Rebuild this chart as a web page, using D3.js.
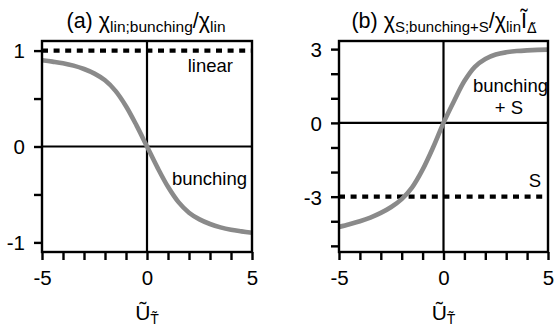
<!DOCTYPE html>
<html><head><meta charset="utf-8">
<script src="https://cdn.jsdelivr.net/npm/d3@7"></script>
<style>
html,body{margin:0;padding:0;background:#fff;}
text{font-family:"Liberation Sans",Arial,sans-serif;fill:#000;}
</style></head>
<body><svg id="c" width="556" height="333"></svg>
<script>
// ---- data ----
const xValues = [-5,-4.5,-4,-3.5,-3,-2.5,-2,-1.5,-1,-0.5,0,0.5,1,1.5,2,2.5,3,3.5,4,4.5,5];
const bunchingA = [0.90,0.885,0.868,0.843,0.808,0.76,0.69,0.58,0.42,0.22,0,-0.22,-0.42,-0.58,-0.69,-0.76,-0.808,-0.843,-0.868,-0.885,-0.90];
const linearA = [1,1];
const bunchingSB = [-4.23,-4.12,-4.0,-3.85,-3.66,-3.42,-3.1,-2.62,-1.9,-1.0,0,0.88,1.7,2.28,2.6,2.78,2.87,2.92,2.95,2.97,2.98];
const sB = [-3,-3];
const xTicks = [-5,-4,-3,-2,-1,0,1,2,3,4,5];
const xTickLabels = [-5,0,5];
const yTicksA = [-1,-0.5,0,0.5,1];
const yTickLabelsA = [-1,0,1];
const yTicksB = [-5,-4,-3,-2,-1,0,1,2,3];
const yTickLabelsB = [-3,0,3];

const svg = d3.select("#c");

function panel(opt){
  const g = svg.append("g");
  const x = d3.scaleLinear().domain([-5,5]).range([opt.x0, opt.x1]);
  const y = d3.scaleLinear().domain(opt.ydom).range([252, 41]);
  // crosshair
  g.append("line").attr("x1",x(-5)).attr("x2",x(5)).attr("y1",y(0)).attr("y2",y(0))
    .attr("stroke","#000").attr("stroke-width",2.2);
  g.append("line").attr("x1",x(0)).attr("x2",x(0)).attr("y1",y.range()[0]).attr("y2",y.range()[1])
    .attr("stroke","#000").attr("stroke-width",2.2);
  // dashed reference
  g.append("path").datum(opt.ref)
    .attr("d", d3.line().x((d,i)=>x(i===0?-5:5)).y(d=>y(d)))
    .attr("fill","none").attr("stroke","#000").attr("stroke-width",4.2)
    .attr("stroke-dasharray","6,5.6");
  // curve
  g.append("path").datum(opt.curve)
    .attr("d", d3.line().curve(d3.curveCatmullRom.alpha(0.5)).x((d,i)=>x(xValues[i])).y(d=>y(d)))
    .attr("fill","none").attr("stroke","#8a8a8a").attr("stroke-width",4.6);
  // frame
  g.append("rect").attr("x",x(-5)).attr("y",41).attr("width",x(5)-x(-5)).attr("height",211)
    .attr("fill","none").attr("stroke","#000").attr("stroke-width",2.4);
  // x axis
  const xa = g.append("g").attr("transform",`translate(0,252)`)
    .call(d3.axisBottom(x).tickValues(xTicks).tickSize(8).tickSizeOuter(0)
      .tickFormat(d=>xTickLabels.includes(d)? String(d):""));
  xa.select(".domain").remove();
  xa.selectAll("line").attr("stroke","#000").attr("stroke-width",2.4);
  xa.selectAll("text").attr("font-size","20.5px").attr("dy","0").attr("y",33)
    .style("font-family","Liberation Sans, Arial, sans-serif").attr("fill","#000");
  // y axis
  const ya = g.append("g").attr("transform",`translate(${x(-5)},0)`)
    .call(d3.axisLeft(y).tickValues(opt.yticks).tickSize(8).tickSizeOuter(0)
      .tickFormat(d=>opt.ylabels.includes(d)? String(d):""));
  ya.select(".domain").remove();
  ya.selectAll("line").attr("stroke","#000").attr("stroke-width",2.4);
  ya.selectAll("text").attr("font-size","20.5px").attr("x",-17).attr("dy","0.36em")
    .style("font-family","Liberation Sans, Arial, sans-serif").attr("fill","#000");
  // x title
  const xt = g.append("text").attr("x",x(0)).attr("y",320).attr("text-anchor","middle")
    .attr("font-size","21px");
  xt.append("tspan").text("Ũ");
  xt.append("tspan").attr("font-size","14px").attr("dy",4).text("T\u0303");
  return {g,x,y};
}

const A = panel({x0:42,x1:252,ydom:[-1.1,1.1],ref:linearA,curve:bunchingA,yticks:yTicksA,ylabels:yTickLabelsA});
const B = panel({x0:339,x1:548,ydom:[-5.25,3.33],ref:sB,curve:bunchingSB,yticks:yTicksB,ylabels:yTickLabelsB});

// titles
const ta = svg.append("text").attr("x",146).attr("y",28).attr("text-anchor","middle").attr("font-size","21.5px");
ta.append("tspan").text("(a) χ");
ta.append("tspan").attr("font-size","15.5px").attr("dy",4).text("lin;bunching");
ta.append("tspan").attr("dy",-4).text("/χ");
ta.append("tspan").attr("font-size","15.5px").attr("dy",4).text("lin");

const tb = svg.append("text").attr("x",444).attr("y",28).attr("text-anchor","middle").attr("font-size","21.5px");
tb.append("tspan").text("(b) χ");
tb.append("tspan").attr("font-size","15px").attr("dy",4).text("S;bunching+S");
tb.append("tspan").attr("dy",-4).text("/χ");
tb.append("tspan").attr("font-size","15px").attr("dy",4).text("lin");
tb.append("tspan").attr("dy",-4).text("Ĩ");
tb.append("tspan").attr("font-size","14px").attr("dy",5)
  .style("font-family","DejaVu Sans, sans-serif").text("Δ\u0303");

// annotations
const lab = (x,y,t)=>svg.append("text").attr("x",x).attr("y",y).attr("text-anchor","end").attr("font-size","18.5px").text(t);
lab(233,72,"linear");
lab(247,185,"bunching");
lab(548,92,"bunching");
lab(523,114,"+ S");
lab(541,187,"S");
</script></body></html>
